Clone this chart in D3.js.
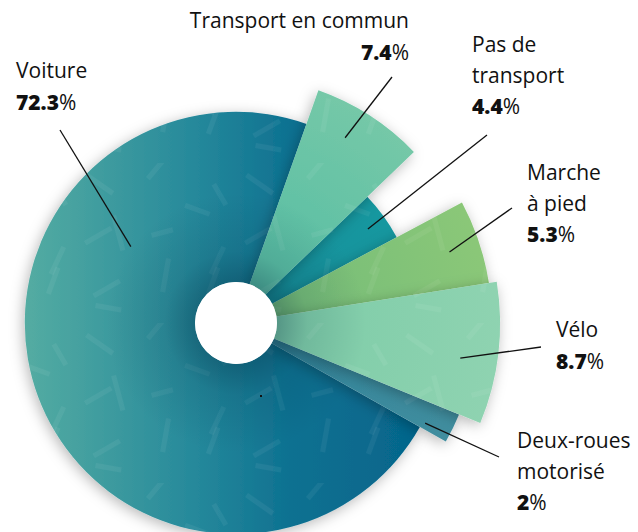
<!DOCTYPE html>
<html>
<head>
<meta charset="utf-8">
<script src="https://cdn.jsdelivr.net/npm/d3@7"></script>
<style>
  html, body { margin: 0; padding: 0; background: #fff; }
  svg { display: block; }
  text { font-family: "Open Sans", "Noto Sans", sans-serif; fill: #111; }
</style>
</head>
<body>
<svg id="chart" width="638" height="532"></svg>
<script>
// ---- data ----
const categories = ["Transport en commun", "Pas de transport", "Marche à pied", "Vélo", "Deux-roues motorisé", "Voiture"];
const shares = [7.4, 4.4, 5.3, 8.7, 2, 72.3];
const valueLabels = ["7.4", "4.4", "5.3", "8.7", "2", "72.3"];
// relative radial length of each wedge
const lengthIndex = [0.935, 0.69, 0.97, 1.0, 0.913, 0.80];
const colorsInner = ["#5bbfa4", "#15929c", "#78be78", "#80cda9", "#35869b", null];
const colorsOuter = ["#78c9a8", "#1c9ca2", "#8cc878", "#8fd3b1", "#428f9f", null];

// label layout
const labelLines = [
  ["Transport en commun"],
  ["Pas de", "transport"],
  ["Marche", "à pied"],
  ["Vélo"],
  ["Deux-roues", "motorisé"],
  ["Voiture"]
];
const labelX = [409, 472, 527, 556, 517, 16];
const labelY = [28, 52, 180, 337, 448, 78];
const labelAnchor = ["end", "start", "start", "start", "start", "start"];
const leaderOuter = [[392, 77], [487, 135], [512, 208], [541, 347], [499, 457], [60, 130]];
const leaderAngleDeg = [30.5, 54.5, 71.6, 98.9, 117.9, 306];
const leaderRadius = [215, 162, 225, 227, 214, 130];

// ---- setup ----
const W = 638, H = 532;
const cx = 236, cy = 323;
const svg = d3.select("#chart");
const defs = svg.append("defs");

// Voiture gradient (coords relative to pie centre)
const gv = defs.append("linearGradient").attr("id", "g5")
  .attr("gradientUnits", "userSpaceOnUse").attr("x1", 25 - cx).attr("y1", 0).attr("x2", 447 - cx).attr("y2", 0);
[[0, "#54aca2"], [0.4, "#26899b"], [0.63, "#0d7191"], [1, "#03628a"]].forEach(s =>
  gv.append("stop").attr("offset", s[0]).attr("stop-color", s[1]));

// other wedges: radial gradient inner -> outer
colorsInner.forEach((c, i) => {
  if (!c) return;
  const rg = defs.append("radialGradient").attr("id", "g" + i)
    .attr("gradientUnits", "userSpaceOnUse").attr("cx", 0).attr("cy", 0).attr("r", 270);
  rg.append("stop").attr("offset", 0.3).attr("stop-color", c);
  rg.append("stop").attr("offset", 1).attr("stop-color", colorsOuter[i]);
});

const sh = defs.append("filter").attr("id", "shadow").attr("x", "-30%").attr("y", "-30%").attr("width", "160%").attr("height", "160%");
sh.append("feDropShadow").attr("dx", -2).attr("dy", 3).attr("stdDeviation", 7)
  .attr("flood-color", "#000").attr("flood-opacity", 0.28);

const hs = defs.append("radialGradient").attr("id", "holeShade")
  .attr("gradientUnits", "userSpaceOnUse").attr("cx", 0).attr("cy", 0).attr("r", 130);
[[0.3, 0.35], [0.55, 0.12], [1, 0]].forEach(s =>
  hs.append("stop").attr("offset", s[0]).attr("stop-color", "#002a40").attr("stop-opacity", s[1]));

// texture pattern of faint dashes
const pat = defs.append("pattern").attr("id", "dashes").attr("patternUnits", "userSpaceOnUse")
  .attr("width", 160).attr("height", 160);
const dashSpecs = [
  [12, 10, 32, 35], [70, 14, 28, -50], [40, 52, 36, 75], [110, 40, 26, 20], [8, 78, 30, -30],
  [95, 96, 34, 100], [140, 20, 24, 60], [45, 120, 30, 150], [130, 130, 28, -70], [20, 140, 26, 10],
  [75, 70, 22, -15], [150, 85, 30, 115]
];
dashSpecs.forEach(d => pat.append("rect").attr("x", d[0]).attr("y", d[1]).attr("width", d[2]).attr("height", 5)
  .attr("transform", `rotate(${d[3]},${d[0]},${d[1]})`).attr("fill", "#fff").attr("fill-opacity", 0.055));

const data = categories.map((c, i) => ({ cat: c, value: shares[i], len: lengthIndex[i], idx: i }));

const startAngle = 19.5 * Math.PI / 180;
const pie = d3.pie().sort(null).value(d => d.value).startAngle(startAngle).endAngle(startAngle + 2 * Math.PI);
const arcs = pie(data);

const rScale = d3.scaleLinear().domain([0, 1]).range([0, 264]);
const innerR = 41;
const arc = d3.arc().innerRadius(innerR).outerRadius(d => rScale(d.data.len));

const g = svg.append("g").attr("transform", `translate(${cx},${cy})`);

// draw order: shorter wedges first
const order = arcs.slice().sort((a, b) => a.data.len - b.data.len);
const wedges = g.selectAll("g.w").data(order).join("g").attr("class", "w");
wedges.append("path").attr("d", arc).attr("fill", d => `url(#g${d.data.idx})`).attr("filter", "url(#shadow)");
wedges.append("path").attr("d", arc).attr("fill", "url(#dashes)");

// shading around hole
const clip = defs.append("clipPath").attr("id", "pieClip");
clip.selectAll("path").data(arcs).join("path").attr("d", arc);
g.append("circle").attr("r", 130).attr("fill", "url(#holeShade)").attr("clip-path", "url(#pieClip)");

// hole
g.append("circle").attr("r", innerR).attr("fill", "#fff");

// leader lines
const lg = svg.append("g");
data.forEach((d, i) => {
  const p = d3.pointRadial(leaderAngleDeg[i] * Math.PI / 180, leaderRadius[i]);
  lg.append("line").attr("x1", cx + p[0]).attr("y1", cy + p[1])
    .attr("x2", leaderOuter[i][0]).attr("y2", leaderOuter[i][1])
    .attr("stroke", "#111").attr("stroke-width", 1.3);
});
// tiny stray dot
svg.append("rect").attr("x", 260).attr("y", 395).attr("width", 2).attr("height", 2).attr("fill", "#111");

// labels
const fs = 21, lh = 30.5;
data.forEach((d, i) => {
  const t = svg.append("text").attr("x", labelX[i]).attr("y", labelY[i])
    .attr("text-anchor", labelAnchor[i]).style("font-size", fs + "px");
  labelLines[i].forEach((ln, k) => {
    t.append("tspan").attr("x", labelX[i]).attr("y", labelY[i] + k * lh).text(ln);
  });
  const vy = labelY[i] + labelLines[i].length * lh + 1;
  const v = svg.append("text").attr("x", labelX[i]).attr("y", vy)
    .attr("text-anchor", labelAnchor[i]).style("font-size", fs + "px");
  v.append("tspan").style("font-weight", 800).text(valueLabels[i]);
  v.append("tspan").style("font-weight", 400).text("%");
});
</script>
</body>
</html>
